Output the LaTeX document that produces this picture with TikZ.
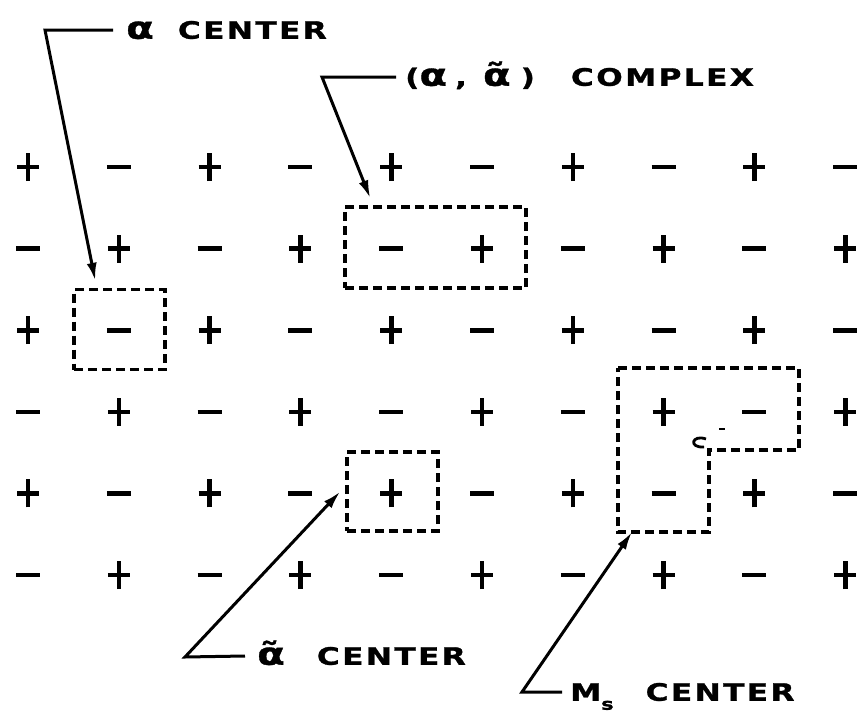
\documentclass[tikz,border=0pt]{standalone}
\usepackage{fontspec}
\usetikzlibrary{arrows.meta,calc}
\newfontfamily\lettering[LetterSpace=10,FakeStretch=1.3,FakeBold=1.2]{DejaVu Sans Bold}
% Greek letters drawn at cap height of the lettering
\newcommand\galpha{{\fontsize{31}{31}\selectfont α}}
\newcommand\galphat{{\fontsize{31}{31}\selectfont α̃}}
\tikzset{
  sign/.style={inner sep=0pt, minimum width=28, minimum height=32},
  plussign/.style={sign, path picture={
    \draw[line width=4.6] ([xshift=-11pt]path picture bounding box.center) -- ([xshift=11pt]path picture bounding box.center);
    \draw[line width=4.6] ([yshift=-14pt]path picture bounding box.center) -- ([yshift=14pt]path picture bounding box.center);}},
  minussign/.style={sign, path picture={
    \draw[line width=4.6] ([xshift=-12pt]path picture bounding box.center) -- ([xshift=12pt]path picture bounding box.center);}},
  dashline/.style={line width=3.4, dash pattern=on 9pt off 5pt},
  cellbox/.style={dashline, draw, inner sep=0pt},
  tag/.style={anchor=west, inner sep=0pt, text height=17.5pt, text depth=0pt, font=\lettering\fontsize{24}{24}\selectfont},
  pointer/.style={line width=3, -{Latex[length=18pt,width=10pt]}},
}
\begin{document}
\begin{tikzpicture}[x=1pt,y=-1pt]
\useasboundingbox (0,0) rectangle (863,715);

% checkerboard of charges
\foreach \r in {0,...,5}{
  \foreach \c in {0,...,9}{
    \pgfmathtruncatemacro\parity{mod(\r+\c,2)}
    \ifnum\parity=0
      \node[plussign] (s-\r-\c) at ({28+90.8*\c},{167+81.6*\r}) {};
    \else
      \node[minussign] (s-\r-\c) at ({28+90.8*\c},{167+81.6*\r}) {};
    \fi
  }
}

% dashed outlines of the centres
\node[cellbox, minimum width=91, minimum height=80] (acenter) at (119.5,329.5) {};
\node[cellbox, minimum width=181, minimum height=81] (complex) at (435.5,247.5) {};
\node[cellbox, minimum width=91, minimum height=79] (atcenter) at (392.5,491.5) {};
\draw[dashline] (618,368) -- (799,368) -- (799,450) -- (709,450) -- (709,532) -- (618,532) coordinate (msbl) -- cycle;
\draw[line width=2.8] (706,439) .. controls (692,434) and (688,448) .. (704,447);
\draw[line width=2.8] (719,429) -- (725,429);

% labels
\node[tag] (la) at (126,30) {\galpha\hspace{24pt}CENTER};
\node[tag] (lc) at (405,77) {(\galpha\hspace{8pt},\hspace{16pt}\galphat\hspace{10pt})\hspace{36pt}COMPLEX};
\node[tag] (lt) at (257,656) {\galphat\hspace{32pt}CENTER};
\node[tag] (lm) at (570,692) {M\raisebox{-9pt}{\fontsize{16}{16}\selectfont s}\hspace{32pt}CENTER};

% leader lines
\coordinate (ea) at (45,30);
\coordinate (ec) at (322,77);
\coordinate (et) at (185,657);
\coordinate (em) at (522,692);
\draw[pointer] ($(la.west)+(-13,0)$) -- (ea) -- ($(acenter.north west)+(23,-7)$);
\draw[pointer] ($(lc.west)+(-9,0)$) -- (ec) -- ($(complex.north west)+(27,-7)$);
\draw[pointer] ($(lt.west)+(-12,0)$) -- (et) -- ($(atcenter.west)+(-5,0)$);
\draw[pointer] ($(lm.west)+(-8,0)$) -- (em) -- ($(msbl)+(14,0)$);
\end{tikzpicture}
\end{document}
